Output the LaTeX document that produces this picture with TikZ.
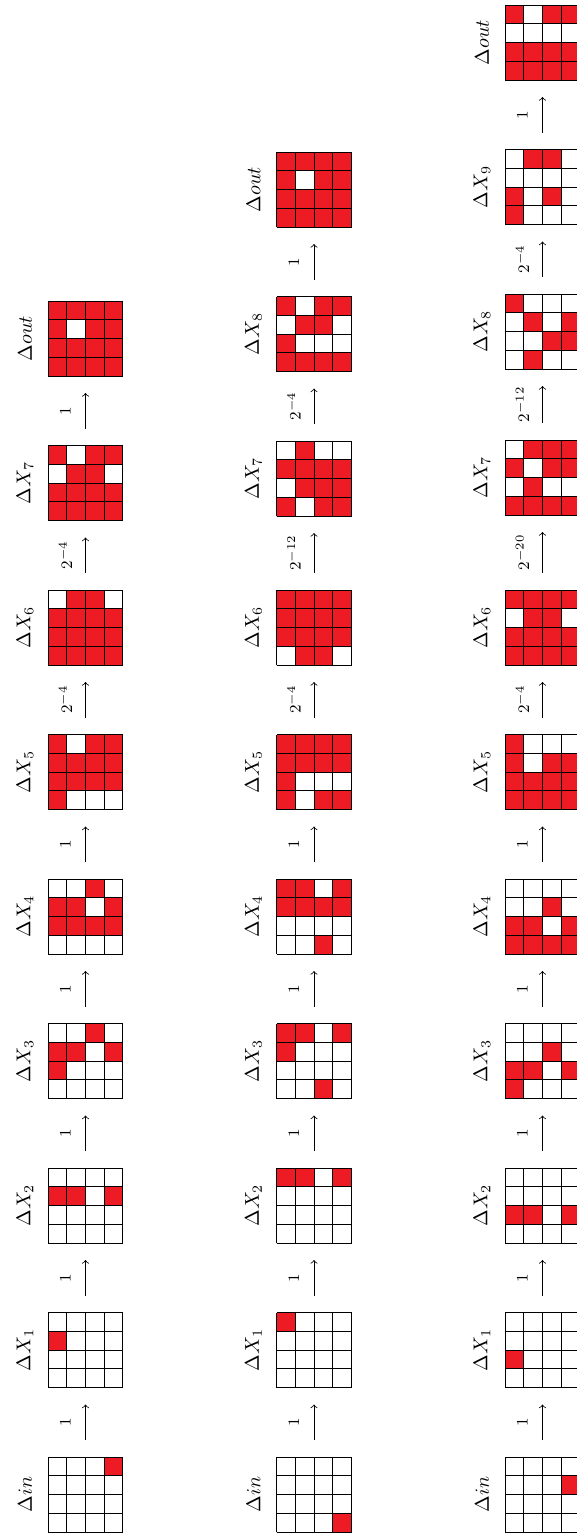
\documentclass[tikz,border=0pt]{standalone}
\usetikzlibrary{positioning}

\definecolor{cellred}{HTML}{ED1C24}

\tikzset{
  gridline/.style={black, line width=0.5pt},
  gridbox/.style={minimum size=37.5pt, inner sep=0pt, outer sep=0pt},
  gridlabel/.style={rotate=90, inner sep=1pt},
  steparrow/.style={->, thin, shorten >=8.5pt, shorten <=8.5pt},
  steplabel/.style={midway, rotate=90, yshift=10pt, font=\footnotesize, inner sep=1pt}
}

% one 4x4 difference pattern: name, left, top, label, red cells (column/row)
\newcommand{\diffgrid}[5]{%
  \foreach \cx/\ry in {#5}
    \fill[cellred] (#2+\cx*18.75-18.75, #3+\ry*18.75-18.75) rectangle +(18.75,18.75);
  \begin{scope}[shift={(#2,#3)}]
    \draw[gridline, step=9.375pt] (0,0) grid (75,75);
  \end{scope}
  \node[gridbox] (#1) at (#2+37.5, #3+37.5) {};
  \node[gridlabel] (#1-lab) at ([xshift=-11.5pt]#1.west) {#4};
}

\begin{document}
\begin{tikzpicture}[x=0.5pt, y=-0.5pt]
    \useasboundingbox (0,0) rectangle (577,1533);

    % Trail 1
    \diffgrid{ain}{48}{1457}{$\Delta in$}{4/1}
    \diffgrid{ax1}{48}{1312.5}{$\Delta X_1$}{1/2}
    \diffgrid{ax2}{48}{1168}{$\Delta X_2$}{1/2,2/2,4/2}
    \diffgrid{ax3}{48}{1023.5}{$\Delta X_3$}{3/1,1/2,2/2,4/2,1/3}
    \diffgrid{ax4}{48}{879}{$\Delta X_4$}{3/1,1/2,2/2,4/2,1/3,2/3,3/3,4/3}
    \diffgrid{ax5}{48}{734.5}{$\Delta X_5$}{1/1,3/1,4/1,1/2,2/2,3/2,4/2,1/3,2/3,3/3,4/3,1/4}
    \diffgrid{ax6}{48}{590}{$\Delta X_6$}{2/1,3/1,1/2,2/2,3/2,4/2,1/3,2/3,3/3,4/3,1/4,2/4,3/4,4/4}
    \diffgrid{ax7}{48}{445.5}{$\Delta X_7$}{1/1,3/1,4/1,2/2,3/2,1/3,2/3,3/3,4/3,1/4,2/4,3/4,4/4}
    \diffgrid{aout}{48}{301}{$\Delta out$}{1/1,2/1,3/1,4/1,1/2,3/2,4/2,1/3,2/3,3/3,4/3,1/4,2/4,3/4,4/4}

    \foreach \from/\to/\prob in {ain/ax1/1, ax1/ax2/1, ax2/ax3/1, ax3/ax4/1, ax4/ax5/1,
                                 ax5/ax6/2^{-4}, ax6/ax7/2^{-4}, ax7/aout/1}
        \draw[steparrow] (\from) -- (\to) node[steplabel] {$\prob$};

    % Trail 2
    \diffgrid{bin}{276.5}{1457}{$\Delta in$}{4/4}
    \diffgrid{bx1}{276.5}{1312.5}{$\Delta X_1$}{1/1}
    \diffgrid{bx2}{276.5}{1168}{$\Delta X_2$}{1/1,2/1,4/1}
    \diffgrid{bx3}{276.5}{1023.5}{$\Delta X_3$}{1/1,2/1,4/1,1/2,3/4}
    \diffgrid{bx4}{276.5}{879}{$\Delta X_4$}{1/1,2/1,4/1,1/2,2/2,3/2,4/2,3/4}
    \diffgrid{bx5}{276.5}{734.5}{$\Delta X_5$}{1/1,2/1,3/1,4/1,1/2,2/2,3/2,4/2,1/3,1/4,3/4,4/4}
    \diffgrid{bx6}{276.5}{590}{$\Delta X_6$}{1/1,2/1,3/1,4/1,1/2,2/2,3/2,4/2,1/3,2/3,3/3,4/3,2/4,3/4}
    \diffgrid{bx7}{276.5}{441}{$\Delta X_7$}{2/1,1/2,2/2,3/2,4/2,2/3,3/3,4/3,1/4,3/4,4/4}
    \diffgrid{bx8}{276.5}{296.5}{$\Delta X_8$}{1/1,3/1,4/1,2/2,3/2,1/3,1/4,2/4,3/4,4/4}
    \diffgrid{bout}{276.5}{152}{$\Delta out$}{1/1,2/1,3/1,4/1,1/2,3/2,4/2,1/3,2/3,3/3,4/3,1/4,2/4,3/4,4/4}

    \foreach \from/\to/\prob in {bin/bx1/1, bx1/bx2/1, bx2/bx3/1, bx3/bx4/1, bx4/bx5/1,
                                 bx5/bx6/2^{-4}, bx6/bx7/2^{-12}, bx7/bx8/2^{-4}, bx8/bout/1}
        \draw[steparrow] (\from) -- (\to) node[steplabel] {$\prob$};

    % Trail 3
    \diffgrid{cin}{505}{1457}{$\Delta in$}{4/2}
    \diffgrid{cx1}{505}{1312.5}{$\Delta X_1$}{1/3}
    \diffgrid{cx2}{505}{1168}{$\Delta X_2$}{1/3,2/3,4/3}
    \diffgrid{cx3}{505}{1023.5}{$\Delta X_3$}{3/2,1/3,2/3,4/3,1/4}
    \diffgrid{cx4}{505}{879}{$\Delta X_4$}{3/2,1/3,2/3,4/3,1/4,2/4,3/4,4/4}
    \diffgrid{cx5}{505}{734.5}{$\Delta X_5$}{1/1,1/2,3/2,4/2,1/3,2/3,3/3,4/3,1/4,2/4,3/4,4/4}
    \diffgrid{cx6}{505}{590}{$\Delta X_6$}{1/1,2/1,3/1,4/1,2/2,3/2,1/3,2/3,3/3,4/3,1/4,2/4,3/4,4/4}
    \diffgrid{cx7}{505}{440}{$\Delta X_7$}{2/1,3/1,4/1,1/2,3/2,4/2,2/3,1/4,2/4,3/4,4/4}
    \diffgrid{cx8}{505}{294}{$\Delta X_8$}{1/1,2/2,4/2,3/3,4/3,2/4}
    \diffgrid{cx9}{505}{149.5}{$\Delta X_9$}{2/1,3/1,1/3,3/3,1/4}
    \diffgrid{cout}{505}{5}{$\Delta out$}{1/1,3/1,4/1,1/3,2/3,3/3,4/3,1/4,2/4,3/4,4/4}

    \foreach \from/\to/\prob in {cin/cx1/1, cx1/cx2/1, cx2/cx3/1, cx3/cx4/1, cx4/cx5/1,
                                 cx5/cx6/2^{-4}, cx6/cx7/2^{-20}, cx7/cx8/2^{-12}, cx8/cx9/2^{-4}, cx9/cout/1}
        \draw[steparrow] (\from) -- (\to) node[steplabel] {$\prob$};

\end{tikzpicture}
\end{document}
